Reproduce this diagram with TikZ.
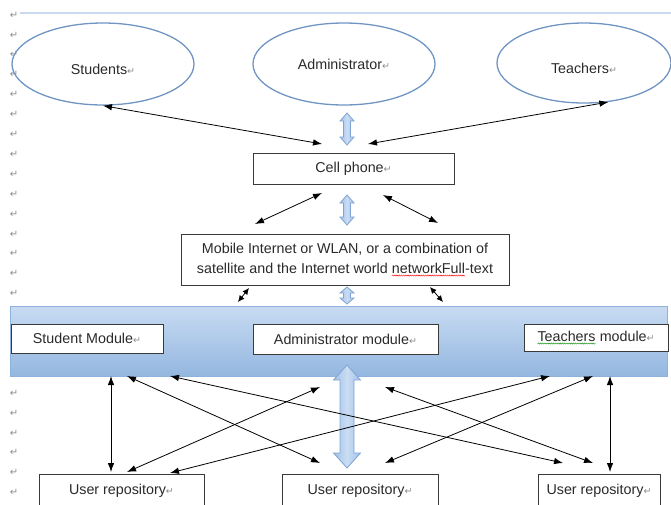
\documentclass[tikz,border=0pt]{standalone}
\usepackage{fontspec}
\setmainfont{Liberation Sans}
\newfontfamily\symfont{DejaVu Sans}
\usepackage{tikz}
\usetikzlibrary{calc,shapes.geometric,arrows.meta,decorations.pathmorphing}
\definecolor{ringblue}{HTML}{7095C3}
\definecolor{boxgray}{HTML}{3A3A3A}
\definecolor{inkgray}{HTML}{2A2A2A}
\definecolor{retgray}{HTML}{8C8C8C}
\definecolor{rulecol}{HTML}{C9DAF0}
\definecolor{bandtop}{HTML}{C8DBF2}
\definecolor{bandbot}{HTML}{94B7E0}
\definecolor{bandline}{HTML}{8EB2DC}
\definecolor{fatmid}{HTML}{CADDF3}
\definecolor{fatside}{HTML}{A3C1E7}
\definecolor{fatline}{HTML}{7FA4D4}
\newcommand\retmark{{\symfont\fontsize{9.5}{9.5}\selectfont\textcolor{retgray}{\char"21B5}}}
\newcommand\lowered[2]{\raisebox{-#1}[0pt][0pt]{#2}}
\newcommand\squig[2]{\tikz[baseline=(w.base)]{\node[shape=rectangle,draw=none,fill=none,inner sep=0pt,outer sep=0pt,minimum width=0pt,minimum height=0pt] (w) {#2};
  \draw[#1,line width=0.4pt,decorate,decoration={snake,amplitude=0.6pt,segment length=2.2pt}] ($(w.base west)+(0pt,-2.5pt)$) -- ($(w.base east)+(0pt,-2.5pt)$);}}
% x, top y, bottom y, shaft half-width, head half-width, head length
\newcommand\fatarrow[6]{\draw[fat] (#1,#2) -- (#1+#5,#2+#6) -- (#1+#4,#2+#6) -- (#1+#4,#3-#6) -- (#1+#5,#3-#6) -- (#1,#3)
  -- (#1-#5,#3-#6) -- (#1-#4,#3-#6) -- (#1-#4,#2+#6) -- (#1-#5,#2+#6) -- cycle;}

\begin{document}
\begin{tikzpicture}[x=1pt,y=-1pt,font=\fontsize{14.3}{20}\selectfont,text=inkgray,
  actor/.style={ellipse,draw=ringblue,line width=1.3pt,inner sep=0pt},
  box/.style={draw=boxgray,line width=1pt,fill=white,inner sep=0pt},
  link/.style={{Latex[length=9pt,width=6.5pt]}-{Latex[length=9pt,width=6.5pt]},line width=0.8pt},
  stub/.style={{Latex[length=6.5pt,width=6pt]}-{Latex[length=6.5pt,width=6pt]},line width=0.8pt},
  fat/.style={draw=fatline,line width=0.8pt,left color=fatside,right color=fatside,middle color=fatmid},
  retm/.style={font=\symfont\fontsize{10}{10}\selectfont,text=retgray,inner sep=0pt}]
\useasboundingbox (0,0) rectangle (671,504);
% paragraph marks down the margin
\foreach \k in {0,...,14} \node[retm] (m\k) at (14,15+19.9*\k) {\char"21B5};
\foreach \k in {19,20,...,24} \node[retm] (m\k) at (14,15+19.9*\k) {\char"21B5};
\draw[rulecol,line width=1.5pt] (20,13) -- (671,13);

\node[actor,minimum width=182pt,minimum height=82pt] (stu) at (103,64) {\lowered{10.5pt}{Students\retmark}};
\node[actor,minimum width=182pt,minimum height=82pt] (adm) at (344,64) {Administrator\retmark};
\node[actor,minimum width=174pt,minimum height=80pt] (tea) at (584,63) {\lowered{10.5pt}{Teachers\retmark}};

\node[box,minimum width=201pt,minimum height=31pt] (cell) at (353.5,168.5) {Cell phone\retmark};
\node[box,minimum width=328pt,minimum height=51pt,align=center] (net) at (345,259.5)
  {Mobile Internet or WLAN, or a combination of\\satellite and the Internet world \squig{red}{networkFull}-text};

\node[draw=bandline,line width=0.8pt,top color=bandtop,bottom color=bandbot,minimum width=657pt,minimum height=70pt,inner sep=0pt] (band) at (338.5,341) {};
\node[box,minimum width=152pt,minimum height=29pt] (smod) at (87,338.5) {Student Module\retmark};
\node[box,minimum width=185pt,minimum height=30pt] (amod) at (345.5,339) {Administrator module\retmark};
\node[box,minimum width=144pt,minimum height=27pt] (tmod) at (596,337.5) {\squig{green!55!black}{Teachers} module\retmark};

\node[box,minimum width=165pt,minimum height=34pt] (rep1) at (121.5,491) {User repository\retmark};
\node[box,minimum width=156pt,minimum height=34pt] (rep2) at (360,491) {User repository\retmark};
\node[box,minimum width=122pt,minimum height=34pt] (rep3) at (599,491) {User repository\retmark};

\fatarrow{347}{113}{145}{3.5}{7}{8}
\fatarrow{347}{195}{225}{3.5}{7}{8}
\fatarrow{347}{287}{304}{3.5}{7}{6}
\fatarrow{347}{365}{468}{7}{13.5}{15}

\coordinate (p1) at (322,144);
\coordinate (p2) at (368,144);
\draw[link] (stu.south) -- (p1);
\draw[link] (tea.302) -- (p2);

\coordinate (q1) at (322,193);
\coordinate (q2) at (255,224);
\coordinate (q3) at (383,195);
\coordinate (q4) at (438,223);
\draw[link] (q1) -- (q2);
\draw[link] (q3) -- (q4);

\coordinate (r1) at (249,288);
\coordinate (r2) at (238,302);
\coordinate (r3) at (430,287);
\coordinate (r4) at (443,302);
\draw[stub] (r1) -- (r2);
\draw[stub] (r3) -- (r4);

\coordinate (sa) at (111,376);
\coordinate (sb) at (127,376);
\coordinate (sc) at (170,376);
\coordinate (aa) at (320,387);
\coordinate (ab) at (385,387);
\coordinate (ta) at (550,376);
\coordinate (tb) at (593,376);
\coordinate (tc) at (610,376);
\coordinate (ua) at (111,472);
\coordinate (ub) at (127,472);
\coordinate (uc) at (170,473);
\coordinate (va) at (320,463);
\coordinate (vb) at (385,463);
\coordinate (wa) at (563,463);
\coordinate (wb) at (593,463);
\coordinate (wc) at (610,472);
\draw[link] (sa) -- (ua);
\draw[link] (sb) -- (va);
\draw[link] (sc) -- (wa);
\draw[link] (ub) -- (aa);
\draw[link] (uc) -- (ta);
\draw[link] (ab) -- (wb);
\draw[link] (vb) -- (tb);
\draw[link] (tc) -- (wc);
\end{tikzpicture}
\end{document}
